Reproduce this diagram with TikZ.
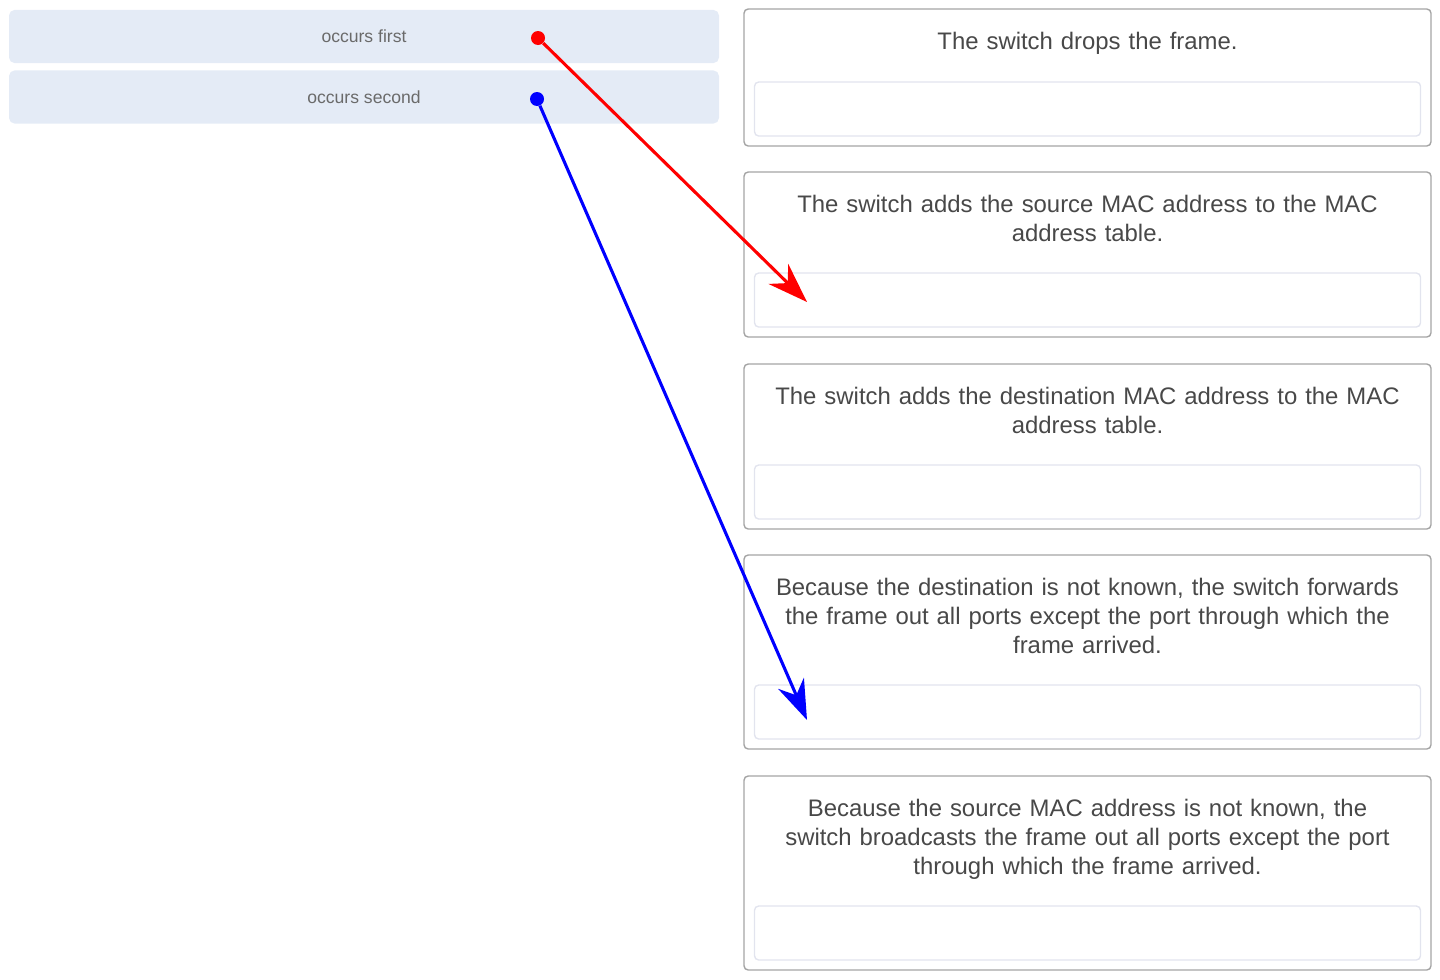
\documentclass[tikz,border=0pt]{standalone}
\usepackage{fontspec}
\setmainfont{Liberation Sans}
\usetikzlibrary{shapes, arrows.meta, positioning}

\definecolor{pillblue}{HTML}{E4EBF6}
\definecolor{labelgray}{HTML}{6A6A6A}
\definecolor{textgray}{HTML}{484848}
\definecolor{boxgray}{HTML}{A4A4A4}
\definecolor{slotgray}{HTML}{E2E4EE}

\tikzset{
    pill/.style={
        rectangle, rounded corners=4pt, fill=pillblue, minimum width=17.75cm, minimum height=1.33cm, text=labelgray, font=\fontsize{12.5}{14}\selectfont
    },
    answer/.style={
        rectangle, rounded corners=3pt, draw=boxgray, line width=1pt, minimum width=17.175cm
    },
    slot/.style={
        rectangle, rounded corners=3pt, draw=slotgray, line width=1pt, minimum width=16.65cm, minimum height=1.35cm
    },
    prompt/.style={
        align=center, text width=16.5cm, inner sep=0pt, text=textgray, font=\fontsize{17}{20.6}\selectfont
    },
    handle/.style={
        circle, inner sep=0pt, minimum size=0.35cm
    },
    arrow/.style={
        line width=2.2pt, -{Stealth[length=1cm, width=0.7cm]}
    }
}

\begin{document}
\begin{tikzpicture}

    % Canvas
    \useasboundingbox (0,0) rectangle (36,-24.475);

    % Order labels
    \node[pill] (first) at (9.1,-0.9125) {occurs first};
    \node[pill] (second) at (9.1,-2.425) {occurs second};

    % Answer boxes
    \node[answer, minimum height=3.425cm] (drop) at (27.1875,-1.9375) {};
    \node[answer, minimum height=4.125cm] (addsrc) at (27.1875,-6.3625) {};
    \node[answer, minimum height=4.125cm] (adddst) at (27.1875,-11.1625) {};
    \node[answer, minimum height=4.85cm] (forward) at (27.1875,-16.3) {};
    \node[answer, minimum height=4.85cm] (broadcast) at (27.1875,-21.825) {};

    % Prompts
    \node[prompt, below=0.58cm of drop.north] {The switch drops the frame.};
    \node[prompt, below=0.58cm of addsrc.north] {The switch adds the source MAC address to the MAC\\address table.};
    \node[prompt, below=0.58cm of adddst.north] {The switch adds the destination MAC address to the MAC\\address table.};
    \node[prompt, below=0.58cm of forward.north] {Because the destination is not known, the switch forwards\\the frame out all ports except the port through which the\\frame arrived.};
    \node[prompt, below=0.58cm of broadcast.north] {Because the source MAC address is not known, the\\switch broadcasts the frame out all ports except the port\\through which the frame arrived.};

    % Drop slots
    \node[slot, above=0.25cm of drop.south] (dropslot) {};
    \node[slot, above=0.25cm of addsrc.south] (addsrcslot) {};
    \node[slot, above=0.25cm of adddst.south] (adddstslot) {};
    \node[slot, above=0.25cm of forward.south] (forwardslot) {};
    \node[slot, above=0.25cm of broadcast.south] (broadcastslot) {};

    % Handles and targets
    \node[handle, fill=red] (firsthandle) at (13.45,-0.95) {};
    \node[handle, fill=blue] (secondhandle) at (13.425,-2.475) {};
    \coordinate[below right=0.05cm and 1.33cm of addsrcslot.west] (firsttip);
    \coordinate[below right=0.2cm and 1.33cm of forwardslot.west] (secondtip);

    % Matches
    \draw[arrow, red] (firsthandle) -- (firsttip);
    \draw[arrow, blue] (secondhandle) -- (secondtip);

\end{tikzpicture}
\end{document}
